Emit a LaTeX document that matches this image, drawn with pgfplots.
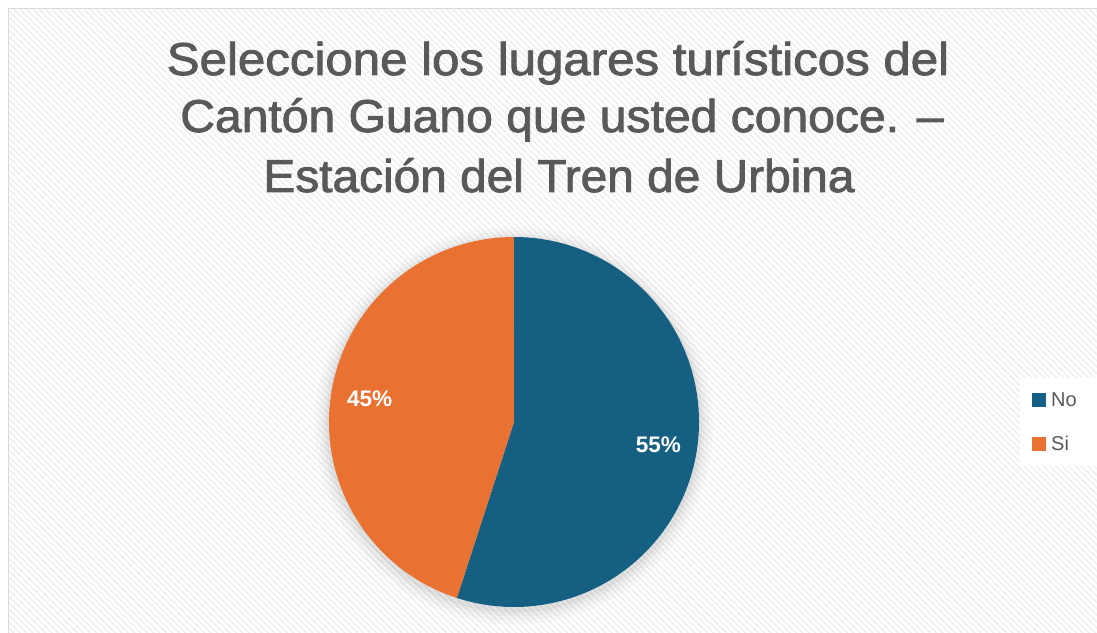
\documentclass[border=0pt]{standalone}
\usepackage{pgfplots}
\pgfplotsset{compat=1.18}
\usepackage{pgfplotstable}
\usepackage{fontspec}
\setmainfont{Liberation Sans}
\newfontfamily\titlefont{Liberation Sans}[FakeBold=1.8]
\usetikzlibrary{patterns.meta}
\definecolor{cNo}{HTML}{156082}
\definecolor{cSi}{HTML}{E97132}
\definecolor{txt}{HTML}{595959}
\pgfplotstableread{
label value
No 55
Si 45
}\piedata
\pgfplotstablegetelem{0}{value}\of\piedata \let\vNo\pgfplotsretval
\pgfplotstablegetelem{1}{value}\of\piedata \let\vSi\pgfplotsretval
\begin{document}
\begin{tikzpicture}[x=1pt,y=1pt]
\useasboundingbox (0,0) rectangle (1097,632);
\fill[white] (0,0) rectangle (1097,632);
\fill[pattern={Lines[angle=-45,distance=4.5pt,line width=1.6pt]}, pattern color=black!6] (9,0) rectangle (1097,623);
\draw[black!15, line width=1.5pt] (8.5,-5) -- (8.5,623.5) -- (1105,623.5);
% title
\tikzset{ttl/.style={anchor=base, text=txt, font=\titlefont\fontsize{46}{58}\selectfont, inner sep=0pt}}
\node[ttl, xscale=1.07] at (558,557) {Seleccione los lugares turísticos del};
\node[ttl, xscale=1.045] at (562,500) {Cantón Guano que usted conoce. –};
\node[ttl, xscale=1.04] at (559,440) {Estación del Tren de Urbina};
\pgfmathsetmacro{\fNo}{\vNo/(\vNo+\vSi)}
\pgfmathsetmacro{\fSi}{\vSi/(\vNo+\vSi)}
\pgfmathsetmacro{\aA}{90}
\pgfmathsetmacro{\aB}{90-360*\fNo}
\pgfmathsetmacro{\aC}{\aB-360*\fSi}
\pgfmathsetmacro{\mA}{(\aA+\aB)/2}
\pgfmathsetmacro{\mB}{(\aB+\aC)/2}
\begin{axis}[at={(514pt,210pt)}, anchor=center, scale only axis,
  width=370pt, height=370pt, xmin=-1, xmax=1, ymin=-1, ymax=1,
  hide axis, clip=false]
  % soft shadow
  \fill[black, opacity=0.02] (axis cs:0,-0.02) circle[radius=199pt];
  \fill[black, opacity=0.025] (axis cs:0,-0.02) circle[radius=195pt];
  \fill[black, opacity=0.03] (axis cs:0,-0.018) circle[radius=191pt];
  \fill[black, opacity=0.04] (axis cs:0,-0.014) circle[radius=188pt];
  \fill[cNo] (axis cs:0,0) -- (axis cs:{cos(\aA)},{sin(\aA)}) arc[start angle=\aA, end angle=\aB, radius=185pt] -- cycle;
  \fill[cSi] (axis cs:0,0) -- (axis cs:{cos(\aB)},{sin(\aB)}) arc[start angle=\aB, end angle=\aC, radius=185pt] -- cycle;
  \node[text=white, font=\fontsize{22.5}{26}\selectfont\bfseries] at (axis cs:{0.79*cos(\mA)},{0.79*sin(\mA)}) {\vNo\%};
  \node[text=white, font=\fontsize{22.5}{26}\selectfont\bfseries] at (axis cs:{0.79*cos(\mB)},{0.79*sin(\mB)}) {\vSi\%};
\end{axis}
% legend
\fill[white] (1020,166) rectangle (1097,254);
\fill[cNo] (1032,225) rectangle (1046,239);
\fill[cSi] (1032,181) rectangle (1046,195);
\node[anchor=base west, inner sep=0pt, text=txt, font=\fontsize{20}{24}\selectfont] at (1051,225) {No};
\node[anchor=base west, inner sep=0pt, text=txt, font=\fontsize{20}{24}\selectfont] at (1051,181) {Si};
\end{tikzpicture}
\end{document}
